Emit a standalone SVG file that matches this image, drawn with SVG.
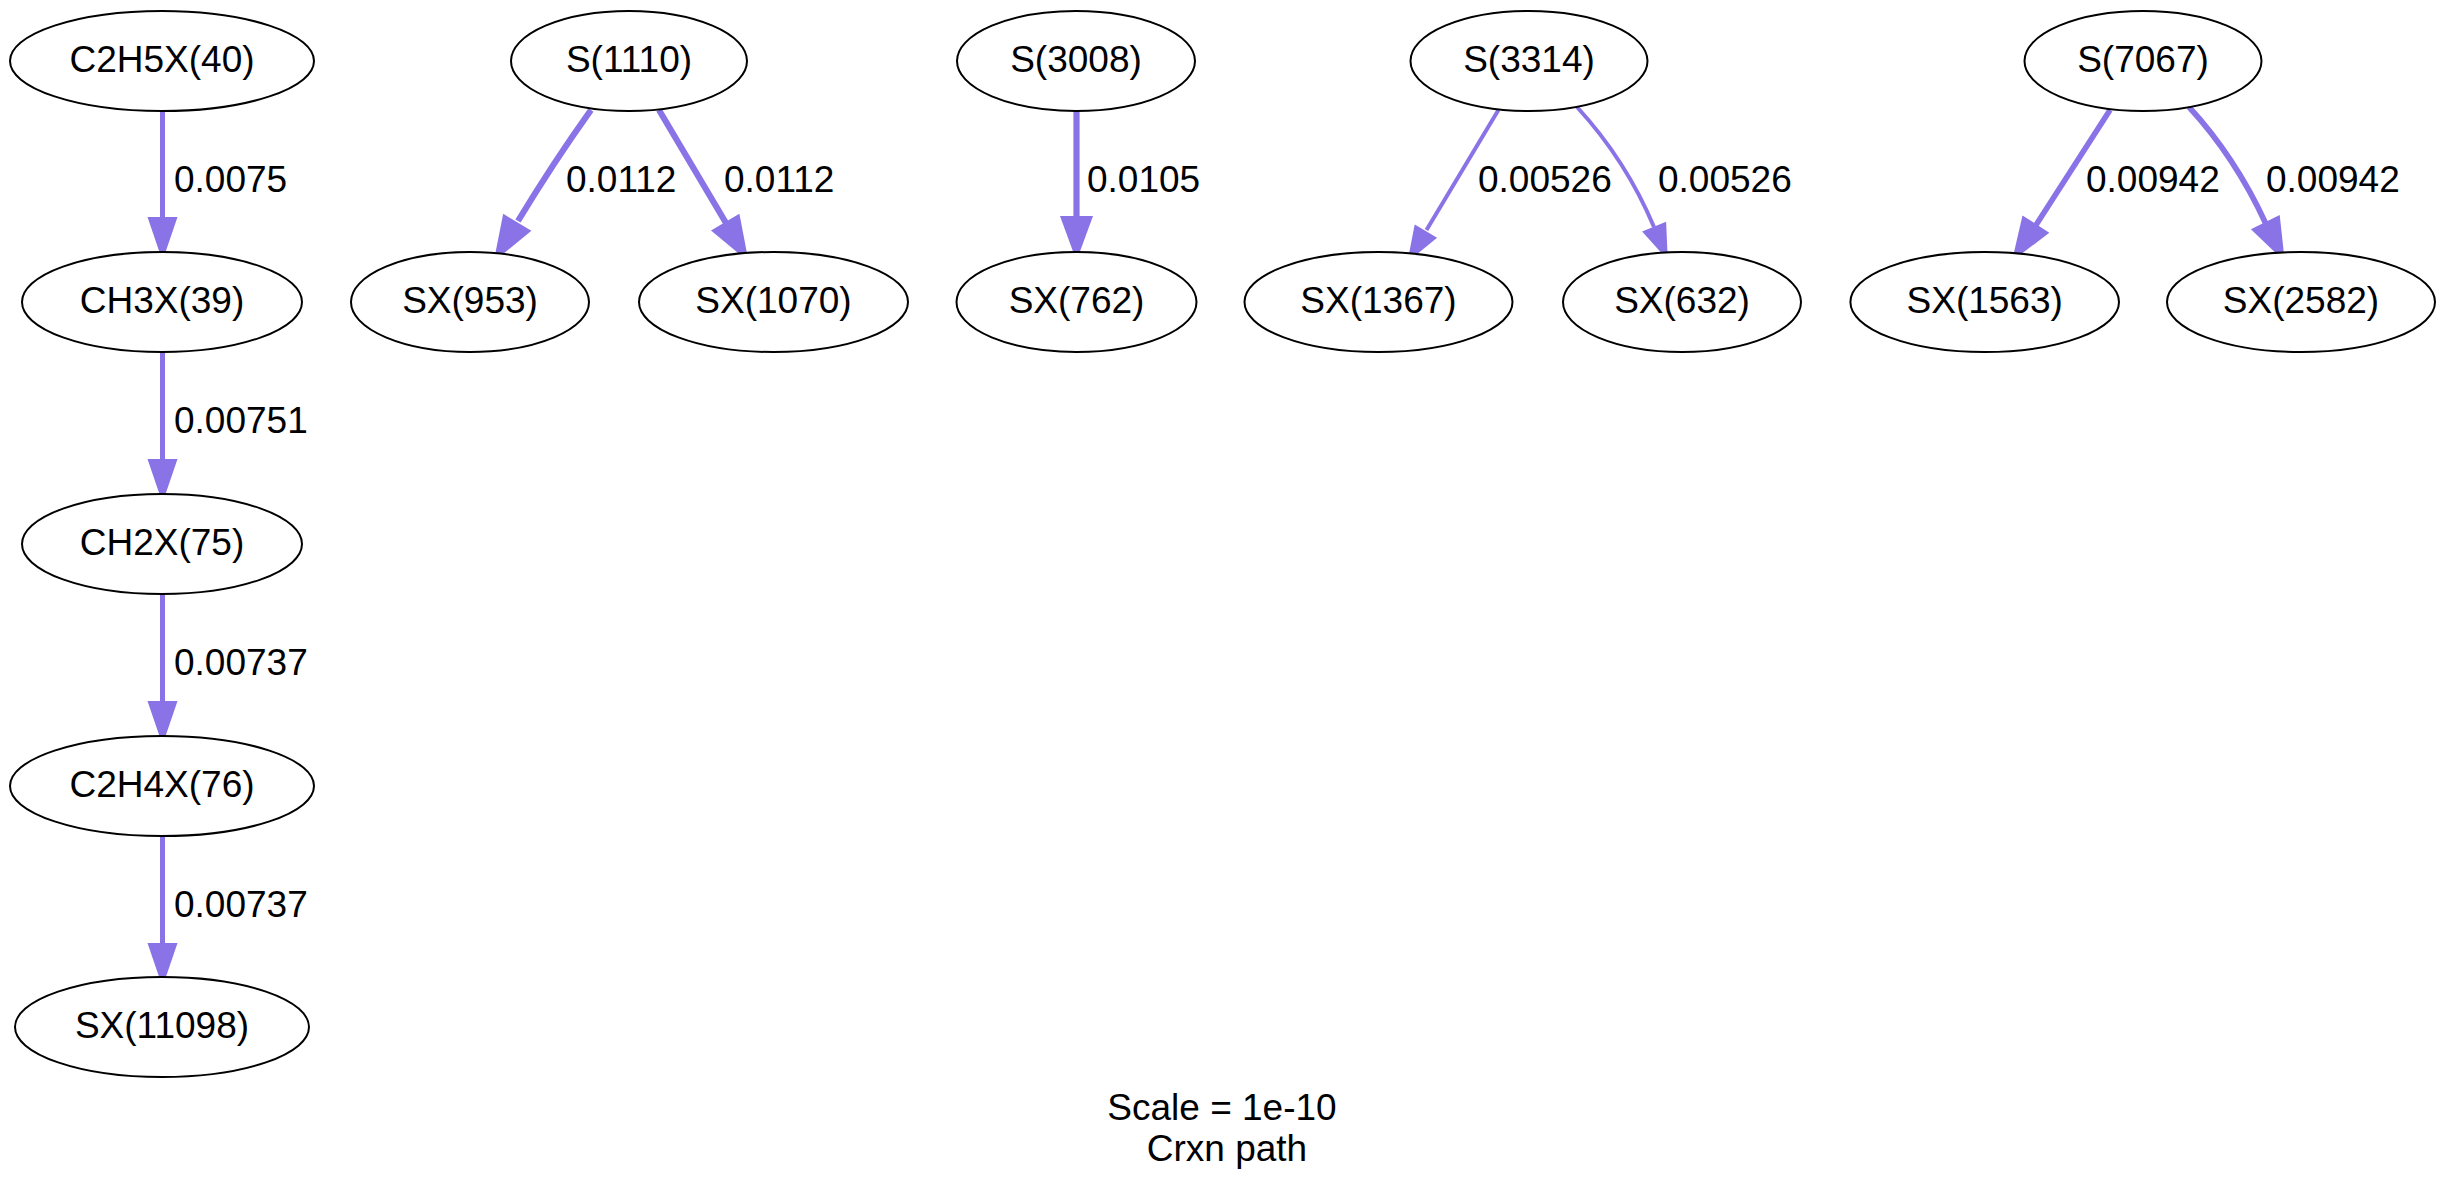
<svg xmlns="http://www.w3.org/2000/svg" width="2446" height="1194" viewBox="0 0 2446 1194">
<style>
.node ellipse{fill:#ffffff;stroke:#000000;stroke-width:2}
text{font-family:"Liberation Sans",Arial,Helvetica,sans-serif;font-size:37px;fill:#000000}
.node text{text-anchor:middle}
.e path{fill:none;stroke:#8a73e6;stroke-linecap:butt}
.e polygon{fill:#8a73e6;stroke:none}
.w4{stroke-width:4}
.w5{stroke-width:5}
.w55{stroke-width:5.6}
.w6{stroke-width:6.2}
</style>
<rect x="0" y="0" width="2446" height="1194" fill="#ffffff"/>
<g id="connectors">
  <g class="e" id="e_c2h5x_ch3x">
    <path class="w5" d="M162.5,111 L162.5,218"/>
    <polygon points="147.5,217 177.5,217 162.5,261"/>
    <text x="174" y="192">0.0075</text>
  </g>
  <g class="e" id="e_ch3x_ch2x">
    <path class="w5" d="M162.5,352 L162.5,460"/>
    <polygon points="147.5,459 177.5,459 162.5,503"/>
    <text x="174" y="433">0.00751</text>
  </g>
  <g class="e" id="e_ch2x_c2h4x">
    <path class="w5" d="M162.5,594 L162.5,702"/>
    <polygon points="147.5,701 177.5,701 162.5,745"/>
    <text x="174" y="675">0.00737</text>
  </g>
  <g class="e" id="e_c2h4x_sx11098">
    <path class="w5" d="M162.5,836 L162.5,944"/>
    <polygon points="147.5,943 177.5,943 162.5,987"/>
    <text x="174" y="917">0.00737</text>
  </g>
  <g class="e" id="e_s1110_sx953">
    <path class="w6" d="M591,110 C576,131 555,160 518,221"/>
    <polygon points="503.2,213.8 531.4,230.8 493.7,261.7"/>
    <text x="566" y="192">0.0112</text>
  </g>
  <g class="e" id="e_s1110_sx1070">
    <path class="w6" d="M659,110 L726,223"/>
    <polygon points="711,230.5 739.4,213.7 748.6,261.7"/>
    <text x="724" y="192">0.0112</text>
  </g>
  <g class="e" id="e_s3008_sx762">
    <path class="w6" d="M1076.5,111 L1076.5,218"/>
    <polygon points="1060,216 1093,216 1076.5,261"/>
    <text x="1087" y="192">0.0105</text>
  </g>
  <g class="e" id="e_s3314_sx1367">
    <path class="w4" d="M1498.4,110 L1426.5,230"/>
    <polygon points="1414.7,224.4 1437.1,237.8 1407.4,262"/>
    <text x="1478" y="192">0.00526</text>
  </g>
  <g class="e" id="e_s3314_sx632">
    <path class="w4" d="M1577,107 C1600,132 1630,170 1654,227"/>
    <polygon points="1642.1,231.6 1666.1,221.8 1667.8,260"/>
    <text x="1658" y="192">0.00526</text>
  </g>
  <g class="e" id="e_s7067_sx1563">
    <path class="w55" d="M2110,110 L2036,225"/>
    <polygon points="2022.5,215.4 2049.3,232.8 2012,261"/>
    <text x="2086" y="192">0.00942</text>
  </g>
  <g class="e" id="e_s7067_sx2582">
    <path class="w55" d="M2189,107 C2212,132 2242,172 2265.5,223"/>
    <polygon points="2250.9,229.3 2279.7,215.1 2284.8,261.7"/>
    <text x="2266" y="192">0.00942</text>
  </g>
</g>
<g class="node" id="n_c2h5x40"><ellipse cx="162" cy="61" rx="152" ry="50"/><text x="162" y="72">C2H5X(40)</text></g>
<g class="node" id="n_ch3x39"><ellipse cx="162" cy="302" rx="140" ry="50"/><text x="162" y="313">CH3X(39)</text></g>
<g class="node" id="n_ch2x75"><ellipse cx="162" cy="544" rx="140" ry="50"/><text x="162" y="555">CH2X(75)</text></g>
<g class="node" id="n_c2h4x76"><ellipse cx="162" cy="786" rx="152" ry="50"/><text x="162" y="797">C2H4X(76)</text></g>
<g class="node" id="n_sx11098"><ellipse cx="162" cy="1027" rx="147" ry="50"/><text x="162" y="1038">SX(11098)</text></g>
<g class="node" id="n_s1110"><ellipse cx="629" cy="61" rx="118" ry="50"/><text x="629" y="72">S(1110)</text></g>
<g class="node" id="n_sx953"><ellipse cx="470" cy="302" rx="119" ry="50"/><text x="470" y="313">SX(953)</text></g>
<g class="node" id="n_sx1070"><ellipse cx="773.5" cy="302" rx="134.5" ry="50"/><text x="773.5" y="313">SX(1070)</text></g>
<g class="node" id="n_s3008"><ellipse cx="1076" cy="61" rx="119" ry="50"/><text x="1076" y="72">S(3008)</text></g>
<g class="node" id="n_sx762"><ellipse cx="1076.5" cy="302" rx="120" ry="50"/><text x="1076.5" y="313">SX(762)</text></g>
<g class="node" id="n_s3314"><ellipse cx="1529" cy="61" rx="118.5" ry="50"/><text x="1529" y="72">S(3314)</text></g>
<g class="node" id="n_sx1367"><ellipse cx="1378.5" cy="302" rx="134" ry="50"/><text x="1378.5" y="313">SX(1367)</text></g>
<g class="node" id="n_sx632"><ellipse cx="1682" cy="302" rx="119" ry="50"/><text x="1682" y="313">SX(632)</text></g>
<g class="node" id="n_s7067"><ellipse cx="2143" cy="61" rx="118.5" ry="50"/><text x="2143" y="72">S(7067)</text></g>
<g class="node" id="n_sx1563"><ellipse cx="1984.7" cy="302" rx="134.3" ry="50"/><text x="1984.7" y="313">SX(1563)</text></g>
<g class="node" id="n_sx2582"><ellipse cx="2301" cy="302" rx="134" ry="50"/><text x="2301" y="313">SX(2582)</text></g>
<g id="caption">
  <text x="1222" y="1120" text-anchor="middle">Scale = 1e-10</text>
  <text x="1227" y="1161" text-anchor="middle">Crxn path</text>
</g>
</svg>
